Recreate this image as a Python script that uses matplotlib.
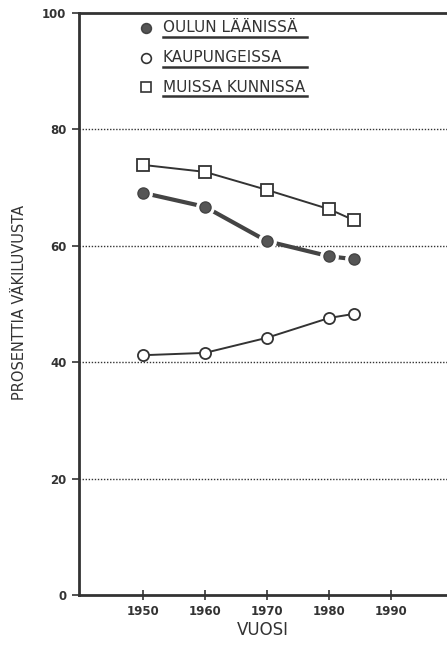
import matplotlib
matplotlib.use("Agg")
import matplotlib.pyplot as plt
from matplotlib.lines import Line2D

years = [1950, 1960, 1970, 1980, 1984]
oulun_laanissa = [69.1, 66.7, 60.8, 58.2, 57.7]
kaupungeissa = [41.2, 41.6, 44.2, 47.6, 48.3]
muissa_kunnissa = [73.9, 72.7, 69.6, 66.3, 64.4]
series_labels = ["OULUN LÄÄNISSÄ", "KAUPUNGEISSA", "MUISSA KUNNISSA"]
xticks = [1950, 1960, 1970, 1980, 1990]
yticks = [0, 20, 40, 60, 80, 100]

plt.rcParams['font.family'] = ['DejaVu Sans']
ink = '#333333'

fig = plt.figure(figsize=(4.47, 6.46), dpi=100)
ax = fig.add_axes([79/447, 1-595/646, 1-79/447, (595-13)/646])
ax.set_xlim(1939.7, 1999.0)
ax.set_ylim(0, 100)

for y in [20, 40, 60, 80]:
    ax.axhline(y, color=ink, lw=1.0, ls=(0, (1, 1.2)), zorder=1)

ax.plot(years, muissa_kunnissa, color=ink, lw=1.4, marker='s', ms=8,
        mfc='white', mec=ink, mew=1.3, zorder=3)
ax.plot(years, kaupungeissa, color=ink, lw=1.4, marker='o', ms=8,
        mfc='white', mec=ink, mew=1.3, zorder=3)
ax.plot(years, oulun_laanissa, color='#444444', lw=3.0, zorder=2)
ax.plot(years, oulun_laanissa, ls='none', marker='o', ms=12.5,
        mfc='white', mec='white', zorder=3)
ax.plot(years, oulun_laanissa, ls='none', marker='o', ms=8,
        mfc='#555555', mec='#444444', mew=1, zorder=4)

# legend with underlined labels
leg_y = [28, 58, 87]
markers = [dict(marker='o', mfc='#555555', mec='#444444'),
           dict(marker='o', mfc='white', mec=ink),
           dict(marker='s', mfc='white', mec=ink)]
for lab, yy, mk in zip(series_labels, leg_y, markers):
    fy = 1 - yy/646
    fig.add_artist(Line2D([146/447], [fy], transform=fig.transFigure, ls='none',
                          ms=7, mew=1.2, **mk))
    fig.text(163/447, fy, lab, fontsize=11, color=ink, va='center', ha='left')
    uy = 1 - (yy + 9)/646
    fig.add_artist(Line2D([163/447, 307/447], [uy, uy], transform=fig.transFigure,
                          color=ink, lw=1.8))

for s in ['top', 'left', 'bottom']:
    ax.spines[s].set_linewidth(2.0)
    ax.spines[s].set_color(ink)
ax.spines['right'].set_visible(False)

ax.set_xticks(xticks)
ax.set_xticklabels([str(t) for t in xticks], fontsize=8.5, color=ink, fontweight='bold')
ax.set_yticks(yticks)
ax.set_yticklabels([str(t) for t in yticks], fontsize=8.5, color=ink, fontweight='bold')
ax.tick_params(axis='x', direction='inout', length=7, width=1.2, color=ink, pad=4)
ax.tick_params(axis='y', direction='out', length=5, width=1.2, color=ink, pad=4)

ax.set_xlabel("VUOSI", fontsize=12, color=ink, labelpad=2)
fig.text(20/447, 1 - 302/646, "PROSENTTIA VÄKILUVUSTA", fontsize=10.5, color=ink,
         rotation=90, ha='center', va='center')

fig.savefig("out.png", dpi=100, facecolor='white')
